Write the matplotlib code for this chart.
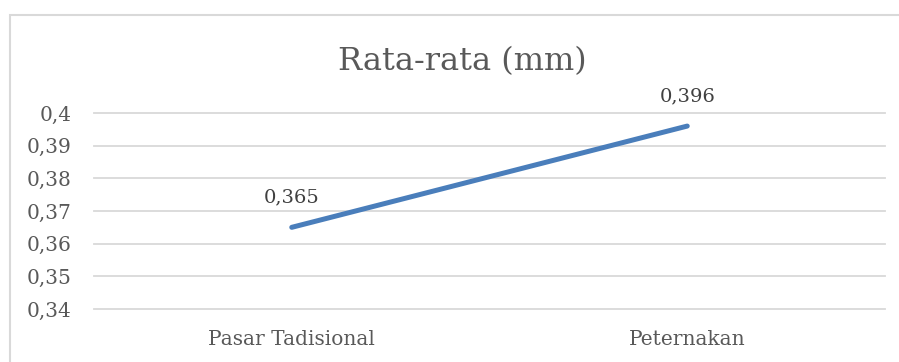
import matplotlib
matplotlib.use("Agg")
import matplotlib.pyplot as plt
from matplotlib.patches import Rectangle

categories = ["Pasar Tadisional", "Peternakan"]
values = [0.365, 0.396]
labels = ["0,365", "0,396"]
yticks = [0.34, 0.35, 0.36, 0.37, 0.38, 0.39, 0.40]
ytick_labels = ["0,34", "0,35", "0,36", "0,37", "0,38", "0,39", "0,4"]
title = "Rata-rata (mm)"

W, H = 899, 362
fig = plt.figure(figsize=(W / 100, H / 100), dpi=100)
plt.rcParams['font.family'] = ['DejaVu Serif']
text_color = "#595959"

# outer chart frame
fig.patches.append(Rectangle((10 / W, -0.1), 1.2, 1 - 15 / H + 0.1,
                             transform=fig.transFigure, fill=False,
                             edgecolor="#D9D9D9", linewidth=1.5))

ax = fig.add_axes([94 / W, 1 - 309 / H, (885 - 94) / W, (309 - 113) / H])
x = list(range(len(categories)))
ax.plot(x, values, color="#4A7EBB", linewidth=3.6, solid_capstyle="round")
for xi, v, lab in zip(x, values, labels):
    ax.annotate(lab, (xi, v), xytext=(0, 15), textcoords="offset points",
                ha="center", va="bottom", fontsize=14, color="#404040")

ax.set_xlim(-0.5, 1.5)
ax.set_ylim(0.34, 0.40)
ax.set_yticks(yticks)
ax.set_yticklabels(ytick_labels, fontsize=14.5, color=text_color)
ax.set_xticks(x)
ax.set_xticklabels(categories, fontsize=14.5, color=text_color)
ax.tick_params(length=0, axis="y", pad=16)
ax.tick_params(length=0, axis="x", pad=15)
ax.grid(axis="y", color="#D9D9D9", linewidth=1.3)
for gl in ax.get_ygridlines():
    gl.set_clip_on(False)
ax.set_axisbelow(True)
for s in ax.spines.values():
    s.set_visible(False)

fig.text(462 / W, 1 - 62 / H, title, ha="center", va="center",
         fontsize=23, color=text_color)

fig.savefig("out.png", dpi=100)
